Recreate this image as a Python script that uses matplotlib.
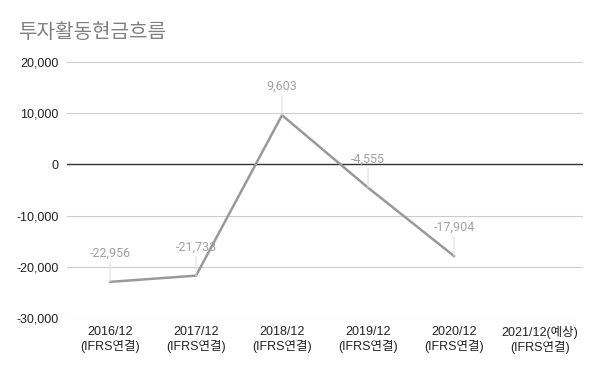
import numpy as np
import matplotlib.pyplot as plt

plt.rcParams['font.family'] = ['Liberation Sans', 'Noto Sans CJK KR']

categories = ['2016/12\n(IFRS연결)', '2017/12\n(IFRS연결)', '2018/12\n(IFRS연결)',
              '2019/12\n(IFRS연결)', '2020/12\n(IFRS연결)', '2021/12(예상)\n(IFRS연결)']
values = [-22956, -21733, 9603, -4555, -17904, np.nan]
yticks = [-30000, -20000, -10000, 0, 10000, 20000]

fig = plt.figure(figsize=(6, 3.71), dpi=100)
ax = fig.add_axes([0.1117, 0.143, 0.86, 0.69])

x = np.arange(len(categories))
ax.plot(x, values, color='#999999', lw=1.8, zorder=3)

ax.set_xlim(-0.5, len(categories) - 0.5)
ax.set_ylim(-30000, 20000)
ax.set_yticks(yticks)
ax.set_yticklabels([f'{v:,}' for v in yticks])
ax.set_xticks(x)
ax.set_xticklabels(categories)
ax.tick_params(length=0, labelsize=9, colors='#222222', pad=6)
ax.grid(axis='y', color='#cccccc', lw=0.8)
ax.axhline(0, color='#333333', lw=1, zorder=2)
for s in ax.spines.values():
    s.set_visible(False)

# data labels with a short leader line
for xi, v in zip(x, values):
    if np.isnan(v):
        continue
    ax.annotate(f'{v:,}', (xi, v), xytext=(0, 16), textcoords='offset points',
                ha='center', va='bottom', fontsize=9, color='#a0a0a0',
                family=['Roboto', 'Noto Sans CJK KR'],
                arrowprops=dict(arrowstyle='-', color='#e0e0e0', lw=0.8,
                                shrinkA=0, shrinkB=0), zorder=4)

fig.text(0.03, 0.912, '투자활동현금흐름', fontsize=14.5, color='#808080',
         family=['Noto Sans CJK KR'], fontweight='light', va='center')

fig.savefig('out.png', dpi=100)
